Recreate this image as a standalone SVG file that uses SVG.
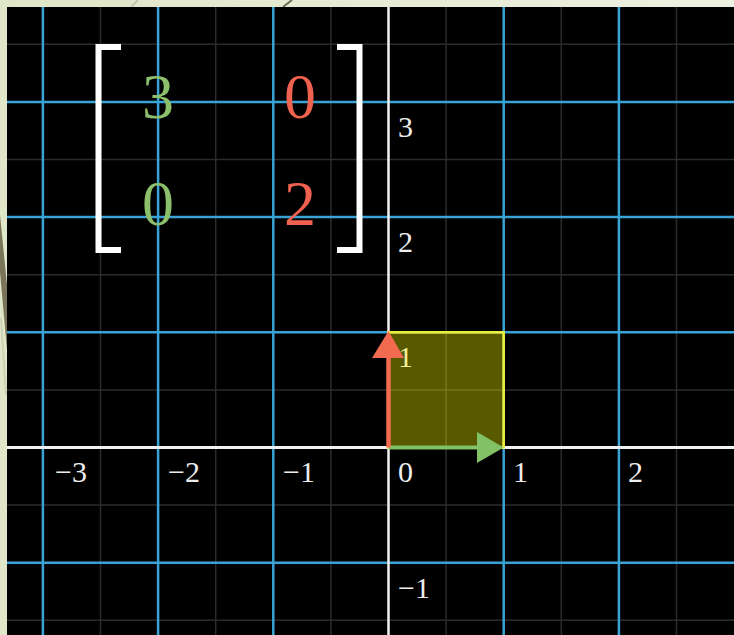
<svg xmlns="http://www.w3.org/2000/svg" width="734" height="635" viewBox="0 0 734 635">
<defs>
<linearGradient id="bg" x1="0" y1="0" x2="1" y2="0">
<stop offset="0" stop-color="#e0e6c8"/>
<stop offset="1" stop-color="#eef0e2"/>
</linearGradient>
</defs>
<style>
.fine{stroke:#2c2c2c;stroke-width:1.5}
.blue{stroke:#38a3d4;stroke-width:2.5}
.axis{stroke:#f2f2f2}
.lbl{font-family:"Liberation Serif","DejaVu Serif",serif;font-size:30px;fill:#ececec}
.ent{font-family:"Liberation Serif","DejaVu Serif",serif;font-size:64px;text-anchor:middle}
.brk{fill:none;stroke:#ffffff;stroke-width:6}
</style>
<rect x="0" y="0" width="734" height="635" fill="url(#bg)"/>
<polygon points="0,215 7,285 7,350 0,272" fill="#7a7458"/>
<polygon points="0,318 2,318 7,395 5,395" fill="#cdd2b6"/>
<line x1="138" y1="0" x2="131" y2="7" stroke="#c4c6b6" stroke-width="2"/>
<line x1="292" y1="0" x2="283" y2="7" stroke="#6f6a50" stroke-width="2"/>
<rect x="7" y="7" width="727" height="628" fill="#000000"/>
<g id="grid">
<g class="fine">
<line x1="100.5" y1="7" x2="100.5" y2="635"/>
<line x1="215.7" y1="7" x2="215.7" y2="635"/>
<line x1="330.9" y1="7" x2="330.9" y2="635"/>
<line x1="446.1" y1="7" x2="446.1" y2="635"/>
<line x1="561.3" y1="7" x2="561.3" y2="635"/>
<line x1="676.5" y1="7" x2="676.5" y2="635"/>
<line x1="7" y1="44.3" x2="734" y2="44.3"/>
<line x1="7" y1="159.5" x2="734" y2="159.5"/>
<line x1="7" y1="274.7" x2="734" y2="274.7"/>
<line x1="7" y1="389.9" x2="734" y2="389.9"/>
<line x1="7" y1="505.1" x2="734" y2="505.1"/>
<line x1="7" y1="620.3" x2="734" y2="620.3"/>
</g>
<g class="blue">
<line x1="42.9" y1="7" x2="42.9" y2="635"/>
<line x1="158.1" y1="7" x2="158.1" y2="635"/>
<line x1="273.3" y1="7" x2="273.3" y2="635"/>
<line x1="503.7" y1="7" x2="503.7" y2="635"/>
<line x1="618.9" y1="7" x2="618.9" y2="635"/>
<line x1="7" y1="101.9" x2="734" y2="101.9"/>
<line x1="7" y1="217.1" x2="734" y2="217.1"/>
<line x1="7" y1="332.3" x2="734" y2="332.3"/>
<line x1="7" y1="562.7" x2="734" y2="562.7"/>
</g>
<line class="axis" x1="7" y1="447.5" x2="734" y2="447.5" stroke-width="3"/>
<line class="axis" x1="388.5" y1="7" x2="388.5" y2="635" stroke-width="2.5"/>
</g>
<g id="labels" class="lbl">
<text x="55" y="482">−3</text>
<text x="168" y="482">−2</text>
<text x="283" y="482">−1</text>
<text x="398" y="482">0</text>
<text x="513" y="482">1</text>
<text x="628" y="482">2</text>
<text x="398" y="137">3</text>
<text x="398" y="252">2</text>
<text x="398" y="367">1</text>
<text x="398" y="598">−1</text>
</g>
<g id="unit-square">
<rect x="388.5" y="332.3" width="115.2" height="115.2" fill="#ffff00" fill-opacity="0.35" stroke="#f0f03a" stroke-width="2.5"/>
</g>
<g id="connectors">
<g id="j-hat">
<line x1="388.5" y1="447.5" x2="478" y2="447.5" stroke="#83c167" stroke-width="4"/>
<polygon points="477,432 477,463 503.7,447.5" fill="#83c167"/>
</g>
<g id="i-hat">
<line x1="388.5" y1="447.5" x2="388.5" y2="356" stroke="#f26b50" stroke-width="4.5"/>
<polygon points="372,358 404,358 388.5,331" fill="#f26b50"/>
</g>
</g>
<g id="matrix">
<path class="brk" d="M121,47 H98.5 V250 H121"/>
<path class="brk" d="M337,47 H359.5 V250 H337"/>
<text class="ent" x="158" y="118" fill="#8cbf6c">3</text>
<text class="ent" x="300" y="118" fill="#f0624f">0</text>
<text class="ent" x="158" y="225" fill="#8cbf6c">0</text>
<text class="ent" x="300" y="225" fill="#f0624f">2</text>
</g>
</svg>
